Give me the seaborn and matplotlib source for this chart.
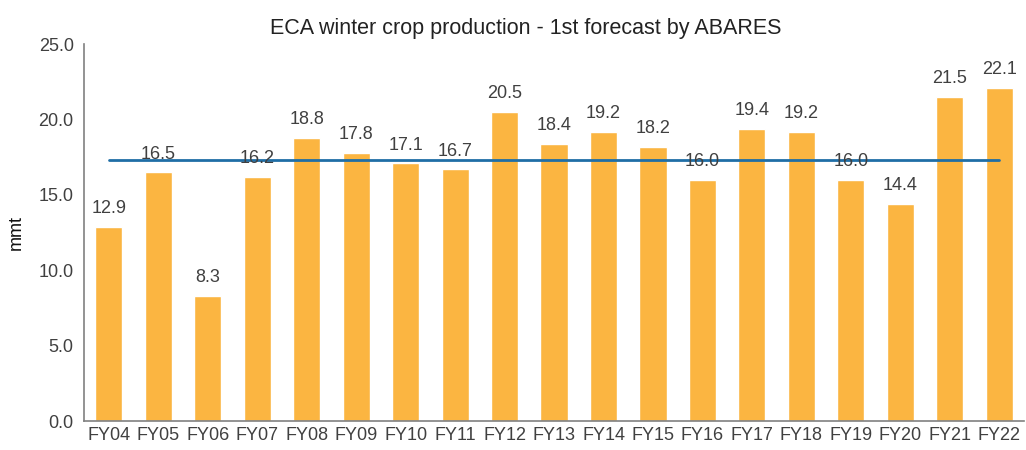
import numpy as np
import pandas as pd
import matplotlib
matplotlib.use('Agg')
import matplotlib.pyplot as plt
import seaborn as sb

years = ['FY04', 'FY05', 'FY06', 'FY07', 'FY08', 'FY09', 'FY10', 'FY11', 'FY12', 'FY13',
         'FY14', 'FY15', 'FY16', 'FY17', 'FY18', 'FY19', 'FY20', 'FY21', 'FY22']
production = [12.9, 16.5, 8.3, 16.2, 18.8, 17.8, 17.1, 16.7, 20.5, 18.4,
              19.2, 18.2, 16.0, 19.4, 19.2, 16.0, 14.4, 21.5, 22.1]
y_ticks = [0.0, 5.0, 10.0, 15.0, 20.0, 25.0]

bar_color = '#FBB541'
avg_color = '#1F6EA6'
text_color = '#404040'

sb.set_style('white')
plt.rcParams['font.family'] = ['Liberation Sans', 'DejaVu Sans']

df = pd.DataFrame({'year': years, 'mmt': production})

fig = plt.figure(figsize=(10.26, 4.5), dpi=100)
ax = fig.add_axes([0.082, 0.064, 0.916, 0.838])

sb.barplot(data=df, x='year', y='mmt', color=bar_color, width=0.55,
           saturation=1, ax=ax)

# average across all years
avg = np.mean(production)
ax.plot([0, len(years) - 1], [avg, avg], color=avg_color, linewidth=2)

for i, v in enumerate(production):
    ax.annotate('{:.1f}'.format(v), (i, v), xytext=(0, 7), textcoords='offset points',
                ha='center', va='bottom', fontsize=13, color=text_color)

ax.set_ylim(0, 25)
ax.set_xlim(-0.5, len(years) - 0.5)
ax.set_yticks(y_ticks)
ax.set_yticklabels(['{:.1f}'.format(t) for t in y_ticks])
ax.set_xticks(np.arange(-0.5, len(years), 1.0), minor=True)
ax.tick_params(axis='x', which='major', length=0, labelsize=13, colors=text_color, pad=4)
ax.tick_params(axis='x', which='minor', length=4, width=1, color='#808080', direction='out')
ax.tick_params(axis='y', length=4, width=1, color='#808080', direction='out',
               labelsize=13, colors=text_color)
ax.set_xlabel('')
ax.set_ylabel('mmt', fontsize=13, color='#111111', labelpad=10)
ax.set_title('ECA winter crop production - 1st forecast by ABARES', fontsize=15.5,
             color='#222222', pad=7, x=0.47)

for s in ['top', 'right']:
    ax.spines[s].set_visible(False)
for s in ['left', 'bottom']:
    ax.spines[s].set_color('#808080')
    ax.spines[s].set_linewidth(1.2)

fig.savefig('out.png', dpi=100)
